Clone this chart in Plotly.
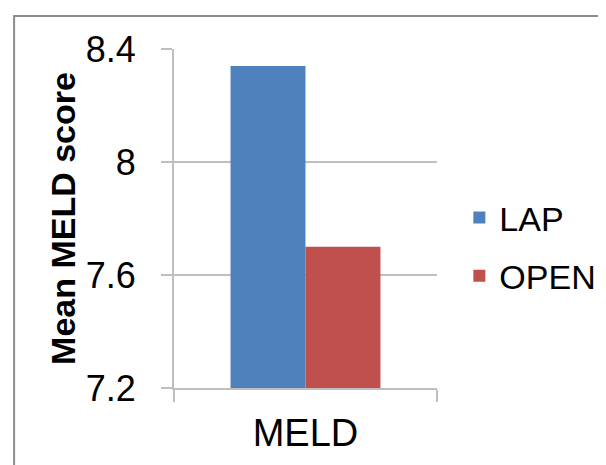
import plotly.graph_objects as go

categories = ["MELD"]
series_names = ["LAP", "OPEN"]
lap_values = [8.34]
open_values = [7.70]
series_colors = ["#4F81BD", "#C0504D"]
y_tick_vals = [7.2, 7.6, 8.0, 8.4]
y_tick_text = ["7.2", "7.6", "8", "8.4"]
y_title = "Mean MELD score"

FONT = "Liberation Sans, Arial, sans-serif"
GRID = "#BFBFBF"

fig = go.Figure()
for name, vals, col in zip(series_names, [lap_values, open_values], series_colors):
    fig.add_trace(go.Bar(
        x=categories, y=vals, name=name, legendgroup=name,
        marker=dict(color=col, line=dict(width=0)),
    ))

fig.update_layout(
    width=606, height=465,
    margin=dict(l=166, r=177, t=41, b=85, autoexpand=False),
    paper_bgcolor="white", plot_bgcolor="white",
    barmode="group", bargap=0.43, bargroupgap=0,
    font=dict(family=FONT, color="black", size=34),
    showlegend=True,
    legend=dict(
        x=1.085, y=0.416, xanchor="left", yanchor="middle",
        font=dict(size=34, family=FONT, color="black"),
        tracegroupgap=11, bgcolor="rgba(0,0,0,0)",
    ),
    xaxis=dict(
        type="category", tickson="boundaries", ticks="outside", ticklen=12,
        tickcolor=GRID, tickwidth=2, showline=True, linecolor=GRID, linewidth=2,
        showgrid=False, tickfont=dict(size=38, family=FONT),
        ticklabelstandoff=10, automargin=False,
    ),
    yaxis=dict(
        range=[7.2, 8.4], tickvals=y_tick_vals, ticktext=y_tick_text,
        ticks="outside", ticklen=11, tickcolor=GRID, tickwidth=2,
        showgrid=True, gridcolor=GRID, gridwidth=2,
        showline=True, linecolor=GRID, linewidth=2, zeroline=False,
        tickfont=dict(size=36, family=FONT), ticklabelstandoff=18,
        automargin=False,
        title=dict(text="<b>" + y_title + "</b>", font=dict(size=34, family=FONT), standoff=0),
    ),
    shapes=[dict(
        type="rect", xref="paper", yref="paper",
        x0=-0.608, x1=1.8, y0=-0.3, y1=1.097,
        line=dict(color="#8C8C8C", width=2), fillcolor="rgba(0,0,0,0)", layer="below",
    )],
)

fig.write_html("out.html")
